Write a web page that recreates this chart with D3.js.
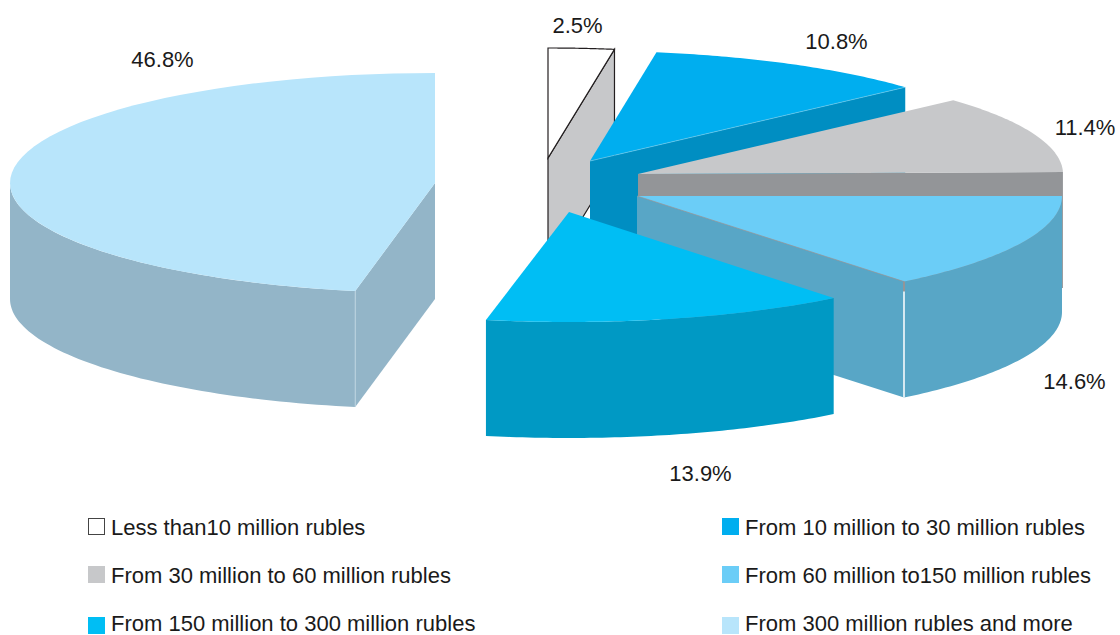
<!DOCTYPE html>
<html><head><meta charset="utf-8">
<script src="https://cdn.jsdelivr.net/npm/d3@7/dist/d3.min.js"></script>
<style>html,body{margin:0;padding:0;background:#fff}svg{display:block}text{font-family:"Liberation Sans",Arial,sans-serif;fill:#1a1a1a}</style>
</head><body><svg id="c" width="1120" height="635"></svg>
<script>
const categories = ["Less than10 million rubles","From 10 million to 30 million rubles","From 30 million to 60 million rubles","From 60 million to150 million rubles","From 150 million to 300 million rubles","From 300 million rubles and more"];
const shares = [2.5,10.8,11.4,14.6,13.9,46.8];
const topColors = ["#ffffff","#00aeef","#c7c8ca","#6bcdf7","#00bef4","#b8e5fb"];
const sideColors = ["#c7c8ca","#008ec2","#939598","#58a6c6","#0099c4","#93b5c8"];
// layout
const centers = [[548,158],[590,161],[638,174],[637,196],[569,212],[435,183]];
const startNudgeDeg = [0,0,0,1.1,0,-0.7];
const endNudgeDeg = [0,0,0,-0.4,-0.25,0];
const labelPos = [[577.5,25],[836.5,41],[1085,127],[1074.5,381],[700.5,473],[162.5,59]];
const legendX = [[88,111],[722,745]], legendBase = [535,583,631], legendSwatchTop = [518,566,617];
const drawOrder = [0,1,2,5,3,4];
const rx=425, ry=110, depth=116;

const svg=d3.select("#c");
const pie=d3.pie().sort(null).value(d=>d)(shares);
const rad=d=>d*Math.PI/180;
const pt=(c,a,dz=0)=>[c[0]+rx*Math.sin(a), c[1]-ry*Math.cos(a)+dz];
const arcPts=(c,a0,a1,dz=0)=>d3.range(0,61).map(i=>pt(c,a0+(a1-a0)*i/60,dz));
const line=d3.line().curve(d3.curveLinear);
const closed=p=>line(p)+"Z";
const LEFT=1.5*Math.PI;

drawOrder.forEach(i=>{
  const c=centers[i], a0=pie[i].startAngle+rad(startNudgeDeg[i]), a1=pie[i].endAngle+rad(endNudgeDeg[i]), g=svg.append("g");
  const stroke=i===0?"#231f20":null, sw=i===0?1.2:0;
  const base=[c[0],c[1]];
  const face=a=>[base,pt(c,a),pt(c,a,depth),[c[0],c[1]+depth]];
  // radial side face toward the viewer
  if(i===5) g.append("path").attr("d",closed(face(a0))).attr("fill",sideColors[i]);
  else if(i!==4) g.append("path").attr("d",closed(face(a1))).attr("fill",sideColors[i]).attr("stroke",stroke).attr("stroke-width",sw);
  // outer wall on the front half of the rim
  if(i>=3){
    const w1=Math.min(a1,LEFT);
    const top=arcPts(c,a0,w1), bot=arcPts(c,a0,w1,depth).reverse();
    g.append("path").attr("d",closed(top.concat(bot))).attr("fill",sideColors[i]);
  }
  // top
  g.append("path").attr("d",closed([base].concat(arcPts(c,a0,a1)))).attr("fill",topColors[i]).attr("stroke",stroke).attr("stroke-width",sw);
  if(i===3){
    const p=pt(c,a1);
    g.append("line").attr("x1",p[0]).attr("x2",p[0]).attr("y1",p[1]).attr("y2",p[1]+10).attr("stroke","#939598").attr("stroke-width",2);
    g.append("line").attr("x1",p[0]).attr("x2",p[0]).attr("y1",p[1]+10).attr("y2",p[1]+depth).attr("stroke","#fff").attr("stroke-width",1.5);
    g.append("line").attr("x1",c[0]).attr("y1",c[1]).attr("x2",p[0]).attr("y2",p[1]).attr("stroke","#939598").attr("stroke-width",.7);
  }
  if(i===5){
    const p=pt(c,a0);
    g.append("line").attr("x1",p[0]).attr("x2",p[0]).attr("y1",p[1]).attr("y2",p[1]+depth).attr("stroke","#c5dbe6").attr("stroke-width",.8);
  }
  if(i===1){
    const p=pt(c,a1);
    g.append("line").attr("x1",c[0]).attr("y1",c[1]).attr("x2",p[0]).attr("y2",p[1]).attr("stroke","#6cc8ea").attr("stroke-width",.7);
  }
});

shares.forEach((v,i)=>{
  svg.append("text").attr("x",labelPos[i][0]).attr("y",labelPos[i][1]).attr("dy","0.36em").attr("text-anchor","middle").attr("font-size",22).text(v.toFixed(1)+"%");
});
categories.forEach((t,i)=>{
  const col=i%2,row=Math.floor(i/2),x=legendX[col];
  const outlined=i===0, o=outlined?.5:0, s=outlined?16:17;
  svg.append("rect").attr("x",x[0]+o).attr("y",legendSwatchTop[row]+o).attr("width",s).attr("height",s)
    .attr("fill",outlined?"#fff":topColors[i]).attr("stroke",outlined?"#444":"none").attr("stroke-width",1);
  svg.append("text").attr("x",x[1]).attr("y",legendBase[row]).attr("font-size",22).text(t);
});
</script></body></html>
